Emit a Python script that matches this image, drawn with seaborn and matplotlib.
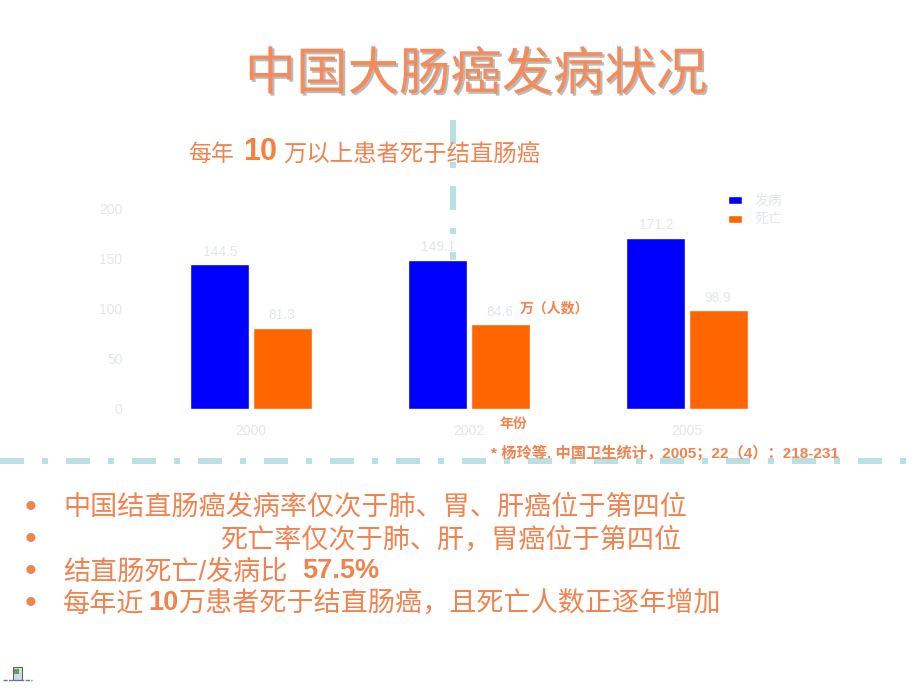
import matplotlib
matplotlib.use('Agg')
import matplotlib.pyplot as plt
import matplotlib.patheffects as pe
from matplotlib.lines import Line2D
from matplotlib.patches import Rectangle
import pandas as pd
import seaborn as sns

# datos
years = ['2000', '2002', '2005']
incidence = [144.5, 149.1, 171.2]
deaths = [81.3, 84.6, 98.9]
series_names = ['发病', '死亡']
y_ticks = [0, 50, 100, 150, 200]

title = '中国大肠癌发病状况'
footnote = '* 杨玲等. 中国卫生统计，2005；22（4）：218-231'

W, H = 920, 690
ORANGE = '#f0834f'
PALE = '#e2e7ec'
TEAL = '#bcdfe2'
FONT = ['Liberation Sans', 'Noto Sans CJK SC', 'DejaVu Sans']

sns.set_theme(style='white')
plt.rcParams['font.family'] = FONT
plt.rcParams['lines.scale_dashes'] = False

fig = plt.figure(figsize=(W / 100, H / 100), dpi=100, facecolor='white')


def px(x, y):
    return x / W, 1 - y / H


# lineas discontinuas de la plantilla (detras del grafico)
dash = (0, (24 * .72, 18 * .72, 6 * .72, 18 * .72))
fig.add_artist(Line2D([0, 1], [1 - 461 / H] * 2, color=TEAL, lw=6 * .72, ls=dash,
                      dash_capstyle='butt', zorder=0))
fig.add_artist(Line2D([453 / W] * 2, [1 - 120 / H, 1 - 262 / H], color=TEAL, lw=6 * .72, ls=dash,
                      dash_capstyle='butt', zorder=0))

ax = fig.add_axes([142 / W, 1 - 409 / H, 654 / W, 200 / H])
ax.patch.set_alpha(0)
ax.set_zorder(1)

df = pd.DataFrame({
    'year': years * 2,
    'value': incidence + deaths,
    'serie': [series_names[0]] * 3 + [series_names[1]] * 3,
})
sns.barplot(data=df, x='year', y='value', hue='serie', order=years, hue_order=series_names,
            palette=['#0000ff', '#ff6600'], width=0.572, gap=0.055, saturation=1, ax=ax)

for c in ax.containers:
    ax.bar_label(c, fmt='%.1f', padding=4, fontsize=10, color=PALE)

ax.set_xlim(-0.5, 2.5)
ax.set_ylim(0, 200)
ax.set_yticks(y_ticks)
ax.set_xlabel('')
ax.set_ylabel('')
ax.tick_params(axis='y', length=0, labelsize=10, labelcolor=PALE, pad=14)
ax.tick_params(axis='x', length=0, labelsize=10, labelcolor=PALE, pad=11)
sns.despine(ax=ax, left=True, bottom=True)
ax.legend(loc='upper left', bbox_to_anchor=(586 / 654, 1.075), frameon=False, fontsize=10,
          labelcolor=PALE, handlelength=1.0, handleheight=0.5, handletextpad=0.9,
          labelspacing=0.33, borderpad=0, borderaxespad=0)

# titulo con sombra
fig.text(*px(476, 76), title, ha='center', va='center', fontsize=37, color='#f58b5a',
         path_effects=[pe.withSimplePatchShadow(offset=(1.5, -1.5), shadow_rgbFace='#aaaaaa', alpha=0.8)])

# subtitulo
fig.text(*px(188, 154), '每年', va='center', fontsize=16.5, color=ORANGE)
fig.text(*px(243, 152), '10', va='center', fontsize=22, weight='bold', color='#f58040')
fig.text(*px(283, 154), '万以上患者死于结直肠癌', va='center', fontsize=16.8, color=ORANGE)

# anotaciones del grafico
fig.text(*px(520, 308), '万（人数）', va='center', fontsize=10, weight='bold', color=ORANGE, zorder=5)
fig.text(*px(499, 424), '年份', va='center', fontsize=10, weight='bold', color=ORANGE)
fig.text(*px(491, 453), footnote, va='center', fontsize=11, weight='bold', color=ORANGE, zorder=5)

# lista inferior
SIZE = 19.5
fig.text(*px(63, 508), '中国结直肠癌发病率仅次于肺、胃、肝癌位于第四位', va='center', fontsize=SIZE, color=ORANGE)
fig.text(*px(220, 541), '死亡率仅次于肺、肝，胃癌位于第四位', va='center', fontsize=SIZE, color=ORANGE)
fig.text(*px(63, 573), '结直肠死亡/发病比', va='center', fontsize=SIZE, color=ORANGE)
fig.text(*px(302, 571), '57.5%', va='center', fontsize=SIZE, weight='bold', color=ORANGE)
fig.text(*px(63, 605), '每年近', va='center', fontsize=SIZE, color=ORANGE)
fig.text(*px(148, 603), '10', va='center', fontsize=SIZE, weight='bold', color=ORANGE)
fig.text(*px(178, 605), '万患者死于结直肠癌，且死亡人数正逐年增加', va='center', fontsize=SIZE, color=ORANGE)
for y in [509, 541, 572, 605]:
    fig.text(*px(31, y), '•', ha='center', va='center', fontsize=24, color=ORANGE)

# icono pequeno abajo a la izquierda
fig.add_artist(Rectangle(px(13, 680), 9 / W, 13 / H, transform=fig.transFigure,
                         facecolor='#c9dbe8', edgecolor='#444444', lw=0.6))
fig.add_artist(Rectangle(px(14, 674), 5 / W, 5 / H, transform=fig.transFigure,
                         facecolor='#6a9c50', edgecolor='none'))
fig.add_artist(Line2D([3 / W, 32 / W], [1 - 680 / H] * 2, color='#777777', lw=1,
                      ls=(0, (3, 1))))

fig.savefig('out.png', dpi=100)
